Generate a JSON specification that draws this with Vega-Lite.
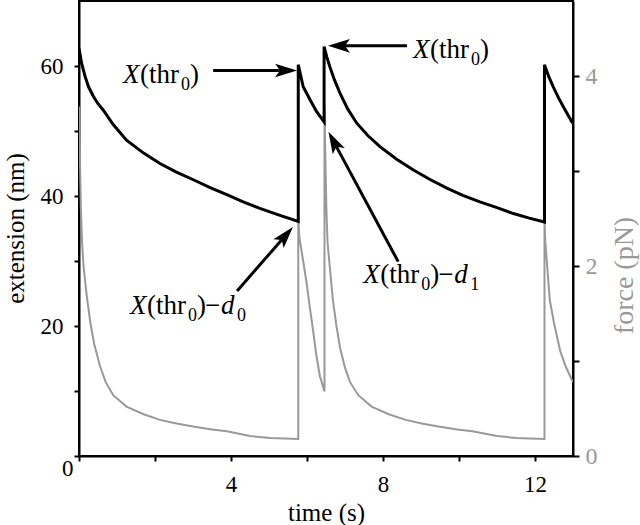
{
  "$schema": "https://vega.github.io/schema/vega-lite/v6.json",
  "width": 494,
  "height": 455,
  "autosize": {"type": "none"},
  "padding": {"left": 79, "top": 1, "right": 67, "bottom": 69},
  "background": "white",
  "config": {
    "view": {"stroke": "black", "strokeWidth": 2},
    "font": "Liberation Serif",
    "style": {"guide-label": {"font": "Liberation Serif"}, "guide-title": {"font": "Liberation Serif"}},
    "axis": {
      "domainColor": "black", "domainWidth": 2, "tickColor": "black", "tickWidth": 2,
      "grid": false, "labelFont": "Liberation Serif", "titleFont": "Liberation Serif",
      "labelFontSize": 23, "titleFontSize": 25, "titleFontWeight": "normal",
      "labelColor": "black", "titleColor": "black", "labelOverlap": false, "labelFlush": false
    }
  },
  "datasets": {
    "ext": [
      {"t": 0, "ext": 62.7}, {"t": 0.07, "ext": 60.4}, {"t": 0.16, "ext": 58.4}, {"t": 0.25, "ext": 56.8},
      {"t": 0.38, "ext": 55.3}, {"t": 0.5, "ext": 54.2}, {"t": 0.64, "ext": 53.2}, {"t": 0.9, "ext": 51.0},
      {"t": 1.25, "ext": 48.6}, {"t": 1.7, "ext": 46.6}, {"t": 2.13, "ext": 45.0}, {"t": 2.55, "ext": 43.7},
      {"t": 3.01, "ext": 42.5}, {"t": 3.45, "ext": 41.3}, {"t": 3.89, "ext": 40.2}, {"t": 4.32, "ext": 39.1},
      {"t": 4.76, "ext": 38.1}, {"t": 5.25, "ext": 37.1}, {"t": 5.77, "ext": 36.1}, {"t": 5.77, "ext": 60.2},
      {"t": 5.9, "ext": 56.8}, {"t": 6.08, "ext": 54.8}, {"t": 6.25, "ext": 53.0}, {"t": 6.45, "ext": 51.4},
      {"t": 6.45, "ext": 63.0}, {"t": 6.52, "ext": 61.4}, {"t": 6.6, "ext": 59.9}, {"t": 6.72, "ext": 57.9},
      {"t": 6.87, "ext": 55.8}, {"t": 7.07, "ext": 53.4}, {"t": 7.31, "ext": 51.2}, {"t": 7.6, "ext": 49.3},
      {"t": 7.92, "ext": 47.6}, {"t": 8.35, "ext": 45.7}, {"t": 8.8, "ext": 44.0}, {"t": 9.25, "ext": 42.5},
      {"t": 9.68, "ext": 41.2}, {"t": 10.1, "ext": 40.1}, {"t": 10.55, "ext": 39.1}, {"t": 11.0, "ext": 38.2},
      {"t": 11.43, "ext": 37.3}, {"t": 11.85, "ext": 36.6}, {"t": 12.25, "ext": 36.0}, {"t": 12.25, "ext": 60.2},
      {"t": 12.36, "ext": 58.4}, {"t": 12.48, "ext": 56.8}, {"t": 12.62, "ext": 55.1}, {"t": 12.75, "ext": 53.7},
      {"t": 12.97, "ext": 51.4}, {"t": 13.0, "ext": 51.2}
    ],
    "force": [
      {"t": 0, "f": 3.68}, {"t": 0.02, "f": 3.2}, {"t": 0.05, "f": 2.6}, {"t": 0.08, "f": 2.25},
      {"t": 0.12, "f": 2.0}, {"t": 0.2, "f": 1.7}, {"t": 0.3, "f": 1.4}, {"t": 0.4, "f": 1.18},
      {"t": 0.55, "f": 0.95}, {"t": 0.7, "f": 0.78}, {"t": 0.9, "f": 0.64}, {"t": 1.25, "f": 0.52},
      {"t": 1.7, "f": 0.44}, {"t": 2.13, "f": 0.38}, {"t": 2.6, "f": 0.34}, {"t": 3.0, "f": 0.31},
      {"t": 3.5, "f": 0.28}, {"t": 3.89, "f": 0.26}, {"t": 4.5, "f": 0.21}, {"t": 5.03, "f": 0.19},
      {"t": 5.77, "f": 0.18}, {"t": 5.77, "f": 2.5}, {"t": 5.8, "f": 2.3}, {"t": 5.9, "f": 2.05},
      {"t": 5.99, "f": 1.82}, {"t": 6.08, "f": 1.55}, {"t": 6.17, "f": 1.29}, {"t": 6.25, "f": 1.05},
      {"t": 6.34, "f": 0.84}, {"t": 6.46, "f": 0.68}, {"t": 6.46, "f": 3.68}, {"t": 6.48, "f": 3.2},
      {"t": 6.51, "f": 2.6}, {"t": 6.54, "f": 2.25}, {"t": 6.6, "f": 1.99}, {"t": 6.68, "f": 1.65},
      {"t": 6.77, "f": 1.38}, {"t": 6.87, "f": 1.14}, {"t": 7.0, "f": 0.93}, {"t": 7.13, "f": 0.78},
      {"t": 7.35, "f": 0.64}, {"t": 7.7, "f": 0.52}, {"t": 8.15, "f": 0.44}, {"t": 8.6, "f": 0.38},
      {"t": 9.05, "f": 0.34}, {"t": 9.46, "f": 0.31}, {"t": 9.95, "f": 0.28}, {"t": 10.35, "f": 0.26},
      {"t": 11.0, "f": 0.21}, {"t": 11.5, "f": 0.19}, {"t": 12.25, "f": 0.18}, {"t": 12.25, "f": 2.5},
      {"t": 12.27, "f": 2.26}, {"t": 12.39, "f": 1.64}, {"t": 12.5, "f": 1.4}, {"t": 12.66, "f": 1.11},
      {"t": 12.8, "f": 0.95}, {"t": 12.97, "f": 0.8}, {"t": 13.0, "f": 0.78}
    ],
    "arrows": [
      {"id": "a1", "t": 3.53, "ext": 59.3, "t2": 5.45, "ext2": 59.3},
      {"id": "a2", "t": 8.63, "ext": 63.1, "t2": 6.84, "ext2": 63.1},
      {"id": "a3", "t": 4.16, "ext": 25.4, "t2": 5.44, "ext2": 33.95},
      {"id": "a4", "t": 8.4, "ext": 29.9, "t2": 6.7, "ext2": 48.4}
    ],
    "labels": [
      {"t": 1.158, "ext": 57.4, "kind": "thr", "sub": ""},
      {"t": 8.79, "ext": 61.2, "kind": "thr", "sub": ""},
      {"t": 1.342, "ext": 21.85, "kind": "d", "sub": "0"},
      {"t": 7.48, "ext": 26.57, "kind": "d", "sub": "1"}
    ]
  },
  "encoding": {
    "x": {
      "field": "t", "type": "quantitative",
      "scale": {"domain": [0, 13], "nice": false, "zero": false},
      "axis": {
        "values": [0, 2, 4, 6, 8, 10, 12],
        "labelExpr": "datum.value > 0 && datum.value % 4 == 0 ? datum.label : ''",
        "tickSize": 5, "labelPadding": 12, "title": "time (s)",
        "labelFont": "Liberation Serif", "titleFont": "Liberation Serif",
        "titleY": 64, "titleBaseline": "alphabetic"
      }
    }
  },
  "layer": [
    {
      "data": {"name": "force"},
      "mark": {"type": "line", "color": "#999999", "strokeWidth": 2, "clip": true},
      "encoding": {
        "y": {
          "field": "f", "type": "quantitative",
          "scale": {"domain": [0, 4.79], "nice": false, "zero": false},
          "axis": {
            "orient": "right", "values": [0, 1, 2, 3, 4],
            "labelExpr": "datum.value % 2 == 0 ? datum.label : ''",
            "tickSize": 6, "labelPadding": 6, "labelColor": "#999999", "labelFontSize": 24,
            "labelFont": "Liberation Serif", "titleFont": "Liberation Serif",
            "title": "force (pN)", "titleColor": "#999999", "titleAngle": 270, "titleFontSize": 28,
            "titleX": 51, "titleY": 274, "titleAlign": "center", "titleBaseline": "middle"
          }
        },
        "order": {"value": null}
      }
    },
    {
      "encoding": {
        "y": {
          "field": "ext", "type": "quantitative",
          "scale": {"domain": [0, 70], "nice": false, "zero": false},
          "axis": {
            "orient": "left", "values": [0, 10, 20, 30, 40, 50, 60],
            "labelExpr": "datum.value % 20 == 0 ? datum.label : ''",
            "tickSize": 5,
            "labelFont": "Liberation Serif", "titleFont": "Liberation Serif",
            "labelPadding": {"condition": {"test": "datum.value == 0", "value": 1}, "value": 11},
            "labelOffset": {"condition": {"test": "datum.value == 0", "value": 12}, "value": 0},
            "title": "extension (nm)", "titleAngle": 270,
            "titleX": -64, "titleY": 227, "titleAlign": "center", "titleBaseline": "middle"
          }
        }
      },
      "layer": [
        {
          "data": {"name": "ext"},
          "mark": {"type": "line", "color": "black", "strokeWidth": 3, "clip": true},
          "encoding": {"order": {"value": null}}
        },
        {
          "data": {"name": "arrows"},
          "mark": {"type": "rule", "color": "black", "strokeWidth": 3},
          "encoding": {"x2": {"field": "t2"}, "y2": {"field": "ext2"}}
        },
        {
          "data": {"name": "arrows"},
          "transform": [{"filter": "datum.id == 'a1'"}],
          "mark": {"type": "point", "shape": "M1,0L-1,-0.62L-0.55,0L-1,0.62Z", "size": 484, "filled": true, "color": "black", "opacity": 1, "angle": 0},
          "encoding": {"x": {"field": "t2", "type": "quantitative"}, "y": {"field": "ext2", "type": "quantitative"}}
        },
        {
          "data": {"name": "arrows"},
          "transform": [{"filter": "datum.id == 'a2'"}],
          "mark": {"type": "point", "shape": "M1,0L-1,-0.62L-0.55,0L-1,0.62Z", "size": 484, "filled": true, "color": "black", "opacity": 1, "angle": 180},
          "encoding": {"x": {"field": "t2", "type": "quantitative"}, "y": {"field": "ext2", "type": "quantitative"}}
        },
        {
          "data": {"name": "arrows"},
          "transform": [{"filter": "datum.id == 'a3'"}],
          "mark": {"type": "point", "shape": "M1,0L-1,-0.62L-0.55,0L-1,0.62Z", "size": 484, "filled": true, "color": "black", "opacity": 1, "angle": 311},
          "encoding": {"x": {"field": "t2", "type": "quantitative"}, "y": {"field": "ext2", "type": "quantitative"}}
        },
        {
          "data": {"name": "arrows"},
          "transform": [{"filter": "datum.id == 'a4'"}],
          "mark": {"type": "point", "shape": "M1,0L-1,-0.62L-0.55,0L-1,0.62Z", "size": 484, "filled": true, "color": "black", "opacity": 1, "angle": 242},
          "encoding": {"x": {"field": "t2", "type": "quantitative"}, "y": {"field": "ext2", "type": "quantitative"}}
        },
        {
          "data": {"name": "labels"},
          "mark": {"type": "text", "align": "left", "baseline": "alphabetic", "fontSize": 27, "fontStyle": "italic", "font": "Liberation Serif", "color": "black"},
          "encoding": {"text": {"value": "X"}}
        },
        {
          "data": {"name": "labels"},
          "mark": {"type": "text", "align": "left", "baseline": "alphabetic", "fontSize": 27, "font": "Liberation Serif", "color": "black", "dx": 17},
          "encoding": {"text": {"value": "(thr"}}
        },
        {
          "data": {"name": "labels"},
          "mark": {"type": "text", "align": "left", "baseline": "alphabetic", "fontSize": 18, "font": "Liberation Serif", "color": "black", "dx": 58, "dy": 7},
          "encoding": {"text": {"value": "0"}}
        },
        {
          "data": {"name": "labels"},
          "mark": {"type": "text", "align": "left", "baseline": "alphabetic", "fontSize": 27, "font": "Liberation Serif", "color": "black", "dx": 67},
          "encoding": {"text": {"value": ")"}}
        },
        {
          "data": {"name": "labels"},
          "transform": [{"filter": "datum.kind == 'd'"}],
          "mark": {"type": "text", "align": "left", "baseline": "alphabetic", "fontSize": 27, "font": "Liberation Serif", "color": "black", "dx": 75},
          "encoding": {"text": {"value": "−"}}
        },
        {
          "data": {"name": "labels"},
          "transform": [{"filter": "datum.kind == 'd'"}],
          "mark": {"type": "text", "align": "left", "baseline": "alphabetic", "fontSize": 27, "fontStyle": "italic", "font": "Liberation Serif", "color": "black", "dx": 91},
          "encoding": {"text": {"value": "d"}}
        },
        {
          "data": {"name": "labels"},
          "transform": [{"filter": "datum.kind == 'd'"}],
          "mark": {"type": "text", "align": "left", "baseline": "alphabetic", "fontSize": 18, "font": "Liberation Serif", "color": "black", "dx": 107, "dy": 7},
          "encoding": {"text": {"field": "sub"}}
        }
      ]
    }
  ],
  "resolve": {"scale": {"y": "independent"}}
}
